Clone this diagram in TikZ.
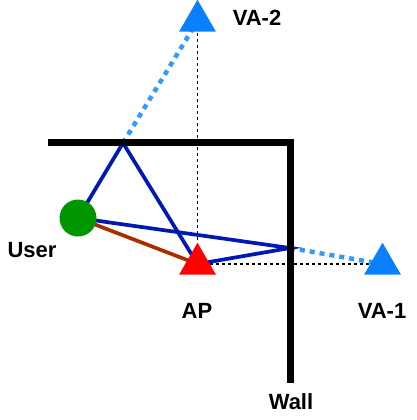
\documentclass[tikz,border=0pt]{standalone}
\usepackage{fontspec}
\setmainfont{Liberation Sans}
\usetikzlibrary{shapes.geometric,backgrounds}
\definecolor{rayblue}{RGB}{0,25,180}
\definecolor{vablue}{RGB}{10,128,255}
\definecolor{dotblue}{RGB}{51,153,255}
\definecolor{usergreen}{RGB}{0,150,0}
\definecolor{brownray}{RGB}{170,45,0}
\begin{document}
\begin{tikzpicture}[x=1pt,y=-1pt,
  tri/.style={regular polygon, regular polygon sides=3, minimum size=42.5pt, inner sep=0pt, outer sep=0pt, draw=none},
  vatri/.style={tri, fill=vablue},
  aptri/.style={tri, fill=red},
  userdot/.style={circle, fill=usergreen, minimum size=37pt, inner sep=0pt, draw=none},
  lbl/.style={inner sep=0pt, font=\fontsize{22}{26}\selectfont\bfseries},
  ray/.style={rayblue, line width=3.7pt},
  bray/.style={brownray, line width=3.7pt},
  vray/.style={dotblue, line width=4.5pt, dash pattern=on 5pt off 5pt},
  guide/.style={black, line width=1.3pt, dash pattern=on 3pt off 3pt},
  wall/.style={black, line width=7pt, line join=miter}]
\useasboundingbox (0,0) rectangle (416,420);
\node[vatri] (va2) at (197.5,21) {};
\node[aptri] (ap) at (197.5,264) {};
\node[vatri] (va1) at (382.5,264) {};
\node[userdot] (user) at (78,218) {};
\coordinate (wl) at (48,142.5);
\coordinate (wc) at (290,142.5);
\coordinate (wb) at (290,383);
\coordinate (r2) at (123,143);
\coordinate (r1) at (290,248);
\node[lbl] (lva2) at (257,18) {VA-2};
\node[lbl] (luser) at (32,250) {User};
\node[lbl] (lap) at (197,311) {AP};
\node[lbl] (lva1) at (382,311) {VA-1};
\node[lbl] (lwall) at (291,402) {Wall};
\begin{pgfonlayer}{background}
  \draw[guide] (va2.center) -- (ap.center);
  \draw[guide] (ap.center) -- (va1.center);
  \draw[vray] (r2) -- (va2.center);
  \draw[vray] (r1) -- (va1.center);
  \draw[ray] (user.center) -- (r2) -- (ap.center);
  \draw[ray] (user.center) -- (r1) -- (ap.center);
  \draw[bray] (user.center) -- (ap.center);
  \draw[wall] (wl) -- (wc) -- (wb);
\end{pgfonlayer}
\end{tikzpicture}
\end{document}
